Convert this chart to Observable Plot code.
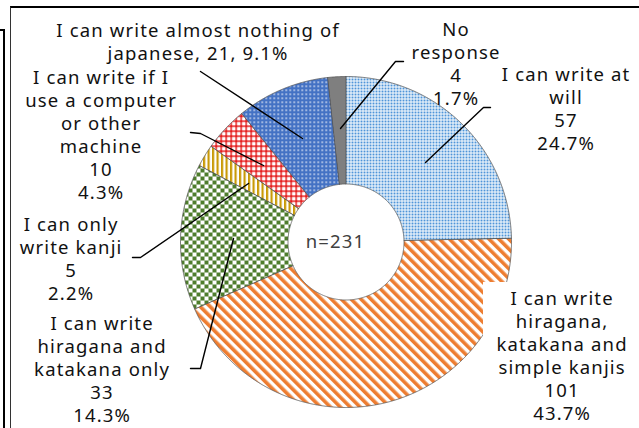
<!DOCTYPE html>
<html><head><meta charset="utf-8">
<script src="https://cdn.jsdelivr.net/npm/d3@7"></script>
<script src="https://cdn.jsdelivr.net/npm/@observablehq/plot@0.6"></script>
<style>
html,body{margin:0;padding:0;background:#fff;}
#wrap{position:relative;width:639px;height:428px;overflow:hidden;background:#fff;}
#wrap svg{position:absolute;left:0;top:0;}
#wrap svg text{letter-spacing:1.15px;}
.outerbox{position:absolute;left:-100px;top:29px;width:103px;height:500px;border-top:2.5px solid #000;border-right:2.5px solid #000;}
.innerbox{position:absolute;left:10px;top:6px;width:700px;height:500px;border-top:2.5px solid #000;border-left:1.5px solid #333;}
</style>
</head><body>
<div id="wrap"><div class="outerbox"></div><div class="innerbox"></div></div>
<script>
// ---- data ----
const categories = [
  "I can write at will",
  "I can write hiragana, katakana and simple kanjis",
  "I can write hiragana and katakana only",
  "I can only write kanji",
  "I can write if I use a computer or other machine",
  "I can write almost nothing of japanese",
  "No response"
];
const counts = [57, 101, 33, 5, 10, 21, 4];
const percents = ["24.7%", "43.7%", "14.3%", "2.2%", "4.3%", "9.1%", "1.7%"];
const labelLines = [
  ["I can write at", "will", "57", "24.7%"],
  ["I can write", "hiragana,", "katakana and", "simple kanjis", "101", "43.7%"],
  ["I can write", "hiragana and", "katakana only", "33", "14.3%"],
  ["I can only", "write kanji", "5", "2.2%"],
  ["I can write if I", "use a computer", "or other", "machine", "10", "4.3%"],
  ["I can write almost nothing of", "japanese, 21, 9.1%"],
  ["No", "response", "4", "1.7%"]
];
const total = 231;

// ---- layout / style (not data) ----
const W = 639, H = 428;
const cx = 345.5, cy = 241.5, R = 165.5, r0 = 58;
const labelPos = [[565,108],[561,355],[101,368.5],[70,258],[100,133.5],[197,40.5],[455,62.5]];
const leaders = [
  [[490,107],[483,107],[425,162]],
  null,
  [[190,368],[200,368],[233,238]],
  [[132,257],[140,257],[248,183]],
  [[190,132],[200,133],[263,165]],
  [[200,71],[302,138]],
  [[403,61],[395,61],[340,128]]
];
const patterns = ["pWill","pSimple","pHK","pKanji","pPC","pNothing","pNone"];

// slices from the data via d3.pie
const arcs = d3.pie().sort(null).value(d => d)(counts);
const slices = arcs.map((a, i) => {
  const pts = [];
  const n = Math.max(6, Math.ceil((a.endAngle - a.startAngle) / 0.005));
  for (let k = 0; k <= n; k++) {
    const t = a.startAngle + (a.endAngle - a.startAngle) * k / n;
    pts.push({x: cx + R * Math.sin(t), y: cy - R * Math.cos(t)});
  }
  for (let k = n; k >= 0; k--) {
    const t = a.startAngle + (a.endAngle - a.startAngle) * k / n;
    pts.push({x: cx + r0 * Math.sin(t), y: cy - r0 * Math.cos(t)});
  }
  return pts;
});

const labels = categories.map((c, i) => ({
  name: c, x: labelPos[i][0] + 0.6, y: labelPos[i][1], text: labelLines[i].join("\n")
}));
const leaderPts = leaders.flatMap((l, i) => l ? l.map(p => ({i, x: p[0], y: p[1]})) : []);

const font = "'Noto Sans', 'DejaVu Sans', sans-serif";

const plot = Plot.plot({
  width: W, height: H, margin: 0,
  x: {domain: [0, W], range: [0, W], axis: null},
  y: {domain: [0, H], range: [0, H], axis: null},
  style: {background: "transparent", fontFamily: font, overflow: "visible"},
  marks: [
    ...slices.map((s, i) => Plot.line(s, {
      x: "x", y: "y", curve: "linear-closed",
      fill: `url(#${patterns[i]})`, stroke: "#555", strokeWidth: 0.8
    })),
    Plot.rect([0], {x1: () => 483, x2: () => W, y1: () => 282, y2: () => H, fill: "#fff"}),
    Plot.line(leaderPts, {x: "x", y: "y", z: "i", stroke: "#000", strokeWidth: 1.4}),
    Plot.text(labels, {x: "x", y: "y", text: "text", fontSize: 18.5, lineHeight: 1.243,
      fill: "#111", fontFamily: font}),
    Plot.text([`n=${total}`], {x: () => cx - 10.5, y: () => cy, text: d => d,
      fontSize: 18.5, fill: "#404040", fontFamily: font})
  ]
});

const svg = plot.tagName.toLowerCase() === "svg" ? plot : plot.querySelector("svg");
d3.select(svg).insert("defs", ":first-child").html(`
  <pattern id="pWill" patternUnits="userSpaceOnUse" width="3" height="3">
    <rect width="3" height="3" fill="#fff"/>
    <rect width="2" height="2" fill="#4f95d8"/>
  </pattern>
  <pattern id="pSimple" patternUnits="userSpaceOnUse" width="7" height="7" patternTransform="rotate(-45)">
    <rect width="7" height="7" fill="#fff"/>
    <rect width="3.6" height="7" fill="#ed7d31"/>
  </pattern>
  <pattern id="pHK" patternUnits="userSpaceOnUse" width="8" height="8">
    <rect width="8" height="8" fill="#fff"/>
    <rect width="4" height="4" fill="#4e7d2c"/>
    <rect x="4" y="4" width="4" height="4" fill="#4e7d2c"/>
  </pattern>
  <pattern id="pKanji" patternUnits="userSpaceOnUse" width="4.5" height="4.5">
    <rect width="4.5" height="4.5" fill="#fff"/>
    <rect width="2.2" height="4.5" fill="#c99a06"/>
  </pattern>
  <pattern id="pPC" patternUnits="userSpaceOnUse" width="5" height="5">
    <rect width="5" height="5" fill="#fff"/>
    <rect width="5" height="1.3" fill="#e00000"/>
    <rect width="1.3" height="5" fill="#e00000"/>
  </pattern>
  <pattern id="pNothing" patternUnits="userSpaceOnUse" width="4" height="4">
    <rect width="4" height="4" fill="#4472c4"/>
    <rect x="1" y="1" width="1.4" height="1.4" fill="#fff"/>
  </pattern>
  <pattern id="pNone" patternUnits="userSpaceOnUse" width="4" height="4">
    <rect width="4" height="4" fill="#7f7f7f"/>
  </pattern>
`);
document.getElementById("wrap").appendChild(plot);
</script>
</body></html>
